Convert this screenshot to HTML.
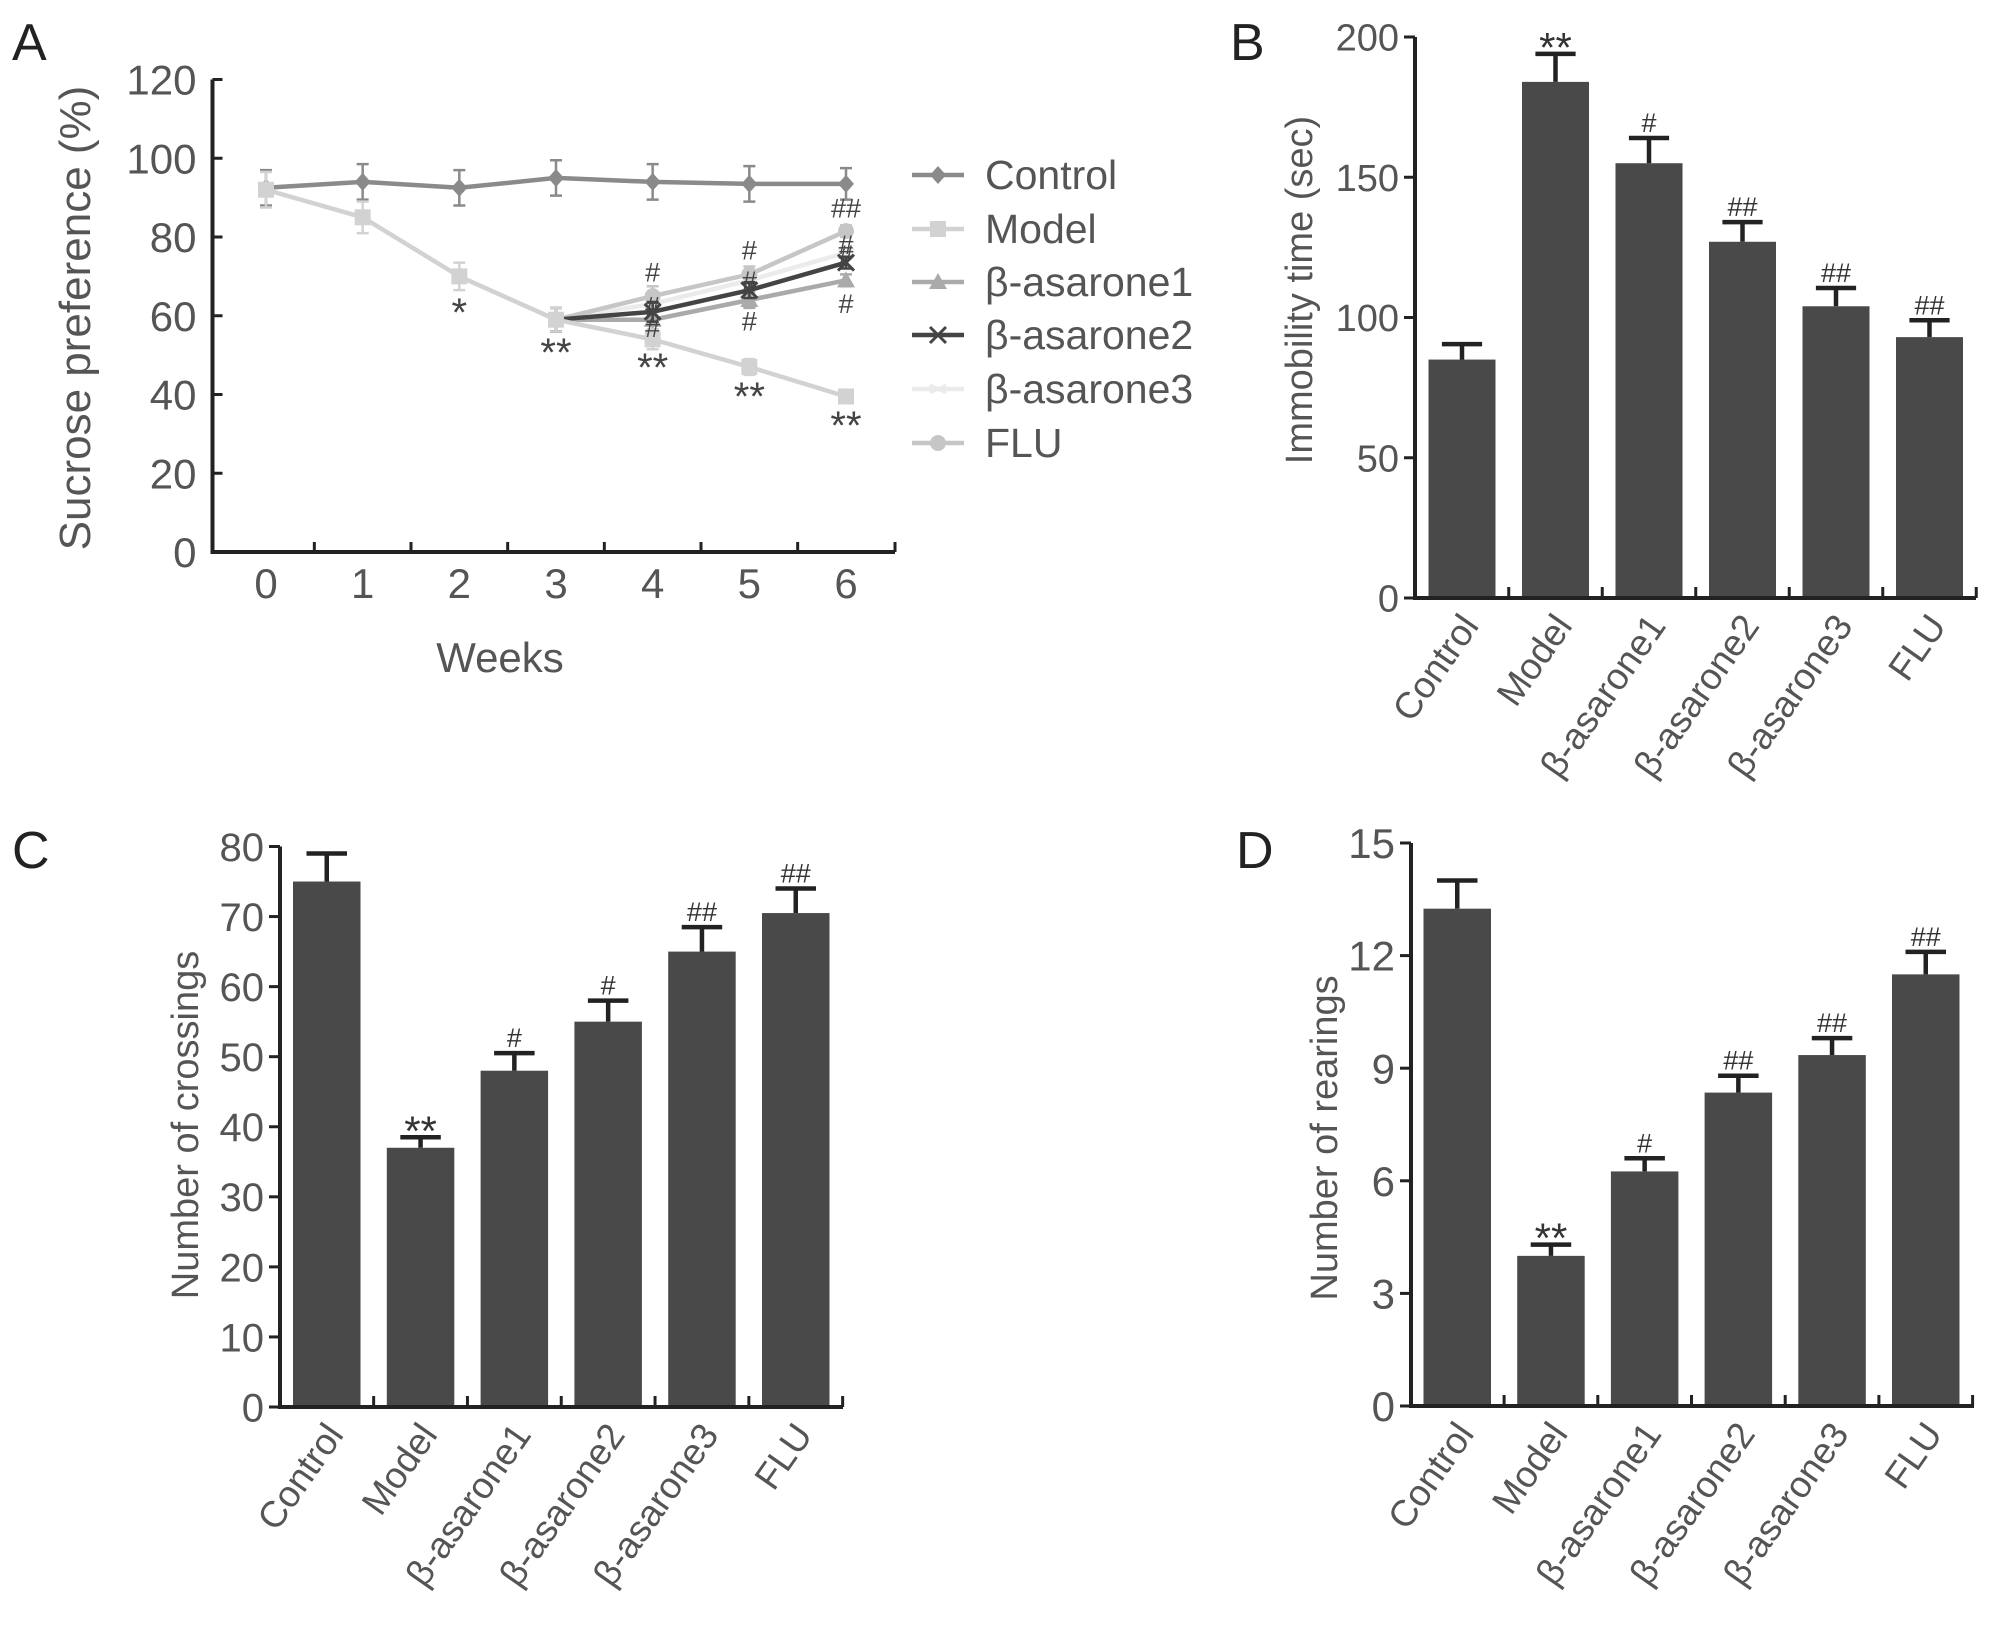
<!DOCTYPE html>
<html><head><meta charset="utf-8">
<style>
html,body{margin:0;padding:0;background:#fff;}
svg{display:block;font-family:"Liberation Sans",Arial,sans-serif;}
</style></head>
<body>
<svg id="fig" width="2008" height="1628" viewBox="0 0 2008 1628" xmlns="http://www.w3.org/2000/svg">
<rect width="2008" height="1628" fill="#fff"/>
<g id="pa"></g>
<g id="pb"></g>
<g id="pc"></g>
<g id="pd"></g>
</svg>
<script>
// ---------- Panel A data ----------
const weeks = [0,1,2,3,4,5,6];
const yTicksA = [0,20,40,60,80,100,120];
const seriesNames = ["Control","Model","β-asarone1","β-asarone2","β-asarone3","FLU"];
const controlVals = [92.5,94,92.5,95,94,93.5,93.5];
const modelVals = [92,85,70,59,54,47,39.5];
const asarone1Vals = [92,85,70,59,59,64,69];
const asarone2Vals = [92,85,70,59,61,66.5,73.5];
const asarone3Vals = [92,85,70,59,63,69,76];
const fluVals = [92,85,70,59,65,70.5,81.5];
const controlErr = [4.5,4.5,4.5,4.5,4.5,4.5,4];
const otherErr = [4.5,4,3.5,3,2.5,2,1.5];
const annotWeek = [2,3,4,5,6,4,4,4,5,5,5,6,6,6,6];
const annotVal = [63,52.8,49,41.6,34.3,71,62.4,56.9,76.6,68.8,58.6,87.3,78,75.4,63];
const annotText = ["*","**","**","**","**","#","#","#","#","#","#","##","#","#","#"];

// ---------- Bar panel data ----------
const categories = ["Control","Model","β-asarone1","β-asarone2","β-asarone3","FLU"];
const immobility = [85,184,155,127,104,93];
const immobilityErr = [5.5,10,9,7,6.5,6];
const immobilitySig = ["","**","#","##","##","##"];
const immobilityTicks = [0,50,100,150,200];
const crossings = [75,37,48,55,65,70.5];
const crossingsErr = [4,1.5,2.5,3,3.5,3.5];
const crossingsSig = ["","**","#","#","##","##"];
const crossingsTicks = [0,10,20,30,40,50,60,70,80];
const rearings = [13.25,4,6.25,8.35,9.35,11.5];
const rearingsErr = [0.75,0.3,0.35,0.45,0.45,0.6];
const rearingsSig = ["","**","#","##","##","##"];
const rearingsTicks = [0,3,6,9,12,15];

const NS="http://www.w3.org/2000/svg";
function mk(parent,tag,attrs,text){
  const e=document.createElementNS(NS,tag);
  for(const k in attrs) e.setAttribute(k,attrs[k]);
  if(text!==undefined) e.textContent=text;
  parent.appendChild(e); return e;
}

// ---------- Panel A ----------
(function(){
  const g=document.getElementById('pa');
  const x0=212.5, y0=552, yTop=79.5, ymax=120, xw0=266, xw6=846, xEnd=895;
  const X=w=>xw0+(xw6-xw0)*w/6;
  const Y=v=>y0-(y0-yTop)*v/ymax;
  let t=mk(g,'text',{x:12,y:60,'font-size':52,fill:'#222'},'A');
  
  
  let ax=mk(g,'path',{d:`M${x0},${yTop} V${y0} H${xEnd}`,stroke:'#222','stroke-width':4,fill:'none'});
  
  
  yTicksA.forEach(v=>{
    mk(g,'line',{x1:x0,x2:x0+10,y1:Y(v),y2:Y(v),stroke:'#222','stroke-width':3});
    const l=mk(g,'text',{x:x0-16,y:Y(v)+15,'font-size':42,fill:'#555','text-anchor':'end'},String(v));
    
    
  });
  for(let w=0;w<6;w++){
    const xx=(X(w)+X(w+1))/2;
    mk(g,'line',{x1:xx,x2:xx,y1:y0,y2:y0-10,stroke:'#222','stroke-width':3});
  }
  mk(g,'line',{x1:xEnd,x2:xEnd,y1:y0,y2:y0-10,stroke:'#222','stroke-width':3});
  weeks.forEach(w=>{
    const l=mk(g,'text',{x:X(w),y:598,'font-size':42,fill:'#555','text-anchor':'middle'},String(w));
    
    
  });
  t=mk(g,'text',{x:500,y:672,'font-size':42,fill:'#555','text-anchor':'middle'},'Weeks');
  
  
  t=mk(g,'text',{x:0,y:0,'font-size':44,fill:'#555','text-anchor':'middle',transform:'translate(90,318) rotate(-90)'},'Sucrose preference (%)');
  
  

  const all=[controlVals,modelVals,asarone1Vals,asarone2Vals,asarone3Vals,fluVals];
  const colors=['#8a8a8a','#d2d2d2','#aaaaaa','#444444','#ebebeb','#c6c6c6'];
  const markers=['diamond','square','triangle','x','dash','circle'];
  function marker(p,type,cx,cy,col){
    if(type==='diamond') return mk(p,'polygon',{points:`${cx},${cy-9} ${cx+8},${cy} ${cx},${cy+9} ${cx-8},${cy}`,fill:col});
    if(type==='square') return mk(p,'rect',{x:cx-8,y:cy-8,width:16,height:16,fill:col});
    if(type==='triangle') return mk(p,'polygon',{points:`${cx},${cy-9} ${cx+9},${cy+7} ${cx-9},${cy+7}`,fill:col});
    if(type==='x') return mk(p,'path',{d:`M${cx-8},${cy-8} L${cx+8},${cy+8} M${cx-8},${cy+8} L${cx+8},${cy-8}`,stroke:col,'stroke-width':3});
    if(type==='dash') return mk(p,'path',{d:`M${cx-8},${cy-4} L${cx+8},${cy+4} M${cx-8},${cy+4} L${cx+8},${cy-4}`,stroke:col,'stroke-width':3});
    return mk(p,'circle',{cx:cx,cy:cy,r:8,fill:col});
  }
  // treatment series first (only visible from week 3), model drawn over shared segment
  const order=[0,4,5,2,3,1];
  order.forEach(i=>{
    const sg=mk(g,'g',{});
    
    
    const vals=all[i], err=i===0?controlErr:otherErr;
    const start=(i>=2)?3:0;
    vals.forEach((v,k)=>{
      if(k<start) return;
      const e=err[k], xx=X(weeks[k]);
      mk(sg,'path',{d:`M${xx},${Y(v-e)} V${Y(v+e)} M${xx-6},${Y(v-e)} H${xx+6} M${xx-6},${Y(v+e)} H${xx+6}`,stroke:colors[i],'stroke-width':2.5,fill:'none'});
    });
    mk(sg,'polyline',{points:vals.map((v,k)=>X(weeks[k])+','+Y(v)).slice(start).join(' '),stroke:colors[i],'stroke-width':4.5,fill:'none'});
    vals.forEach((v,k)=>{
      if(k<start+1 && i>=2) return;
      const m=marker(sg,markers[i],X(weeks[k]),Y(v),colors[i]);
      
      
    });
  });
  annotText.forEach((s,k)=>{
    const star=s.indexOf('*')>=0;
    const l=mk(g,'text',{x:X(annotWeek[k]),y:Y(annotVal[k])+(star?22:9),'font-size':star?40:27,fill:'#444','text-anchor':'middle'},s);
    
    
  });
  // legend
  const ly=[175,229,282,335,389,443];
  seriesNames.forEach((n,i)=>{
    const lg=mk(g,'g',{});
    
    
    mk(lg,'line',{x1:912,x2:964,y1:ly[i],y2:ly[i],stroke:colors[i],'stroke-width':4.5});
    marker(lg,markers[i],938,ly[i],colors[i]);
    mk(lg,'text',{x:985,y:ly[i]+14,'font-size':41,fill:'#555'},n);
  });
})();

// ---------- Bar panels ----------
function barPanel(gid,letter,lx,ly,vals,errs,sigs,ticks,title,cfg){
  const g=document.getElementById(gid);
  const {ax,y0,yTop,xEnd,firstL,pitch,bw,titleX,titleY,tickFont}=cfg;
  const ymax=ticks[ticks.length-1];
  const Y=v=>y0-(y0-yTop)*v/ymax;
  let t=mk(g,'text',{x:lx,y:ly,'font-size':52,fill:'#222'},letter);
  
  
  vals.forEach((v,i)=>{
    const x=firstL+pitch*i;
    const r=mk(g,'rect',{x:x,y:Y(v),width:bw,height:y0-Y(v),fill:'#494949'});
    
    
    const cx=x+bw/2, top=Y(v+errs[i]), cw=bw*0.3;
    const e=mk(g,'path',{d:`M${cx},${Y(v)} V${top} M${cx-cw},${top} H${cx+cw}`,stroke:'#222','stroke-width':4.5,fill:'none'});
    
    
    if(sigs[i]){
      const star=sigs[i].indexOf('*')>=0;
      const s=mk(g,'text',{x:cx,y:top-(star?-8:6),'font-size':star?42:27,fill:'#333','text-anchor':'middle'},sigs[i]);
      
      
    }
    const lab=mk(g,'text',{x:0,y:0,'font-size':37,fill:'#555','text-anchor':'end',transform:`translate(${cx+18},${y0+28}) rotate(-55)`},categories[i]);
    
    
    const tx=firstL+pitch*(i+1)-(pitch-bw)/2;
    mk(g,'line',{x1:tx,x2:tx,y1:y0,y2:y0-11,stroke:'#222','stroke-width':3});
  });
  const a=mk(g,'path',{d:`M${ax},${yTop} V${y0} H${xEnd}`,stroke:'#222','stroke-width':4,fill:'none'});
  
  
  ticks.forEach(v=>{
    mk(g,'line',{x1:ax-11,x2:ax,y1:Y(v),y2:Y(v),stroke:'#222','stroke-width':3});
    const l=mk(g,'text',{x:ax-16,y:Y(v)+tickFont*0.36,'font-size':tickFont,fill:'#555','text-anchor':'end'},String(v));
    
    
  });
  t=mk(g,'text',{x:0,y:0,'font-size':38,fill:'#555','text-anchor':'middle',transform:`translate(${titleX},${titleY}) rotate(-90)`},title);
  
  
}
barPanel('pb','B',1230,60,immobility,immobilityErr,immobilitySig,immobilityTicks,'Immobility time (sec)',
  {ax:1415,y0:598,yTop:37,xEnd:1976,firstL:1428.5,pitch:93.5,bw:67,titleX:1312,titleY:290,tickFont:38});
barPanel('pc','C',12,868,crossings,crossingsErr,crossingsSig,crossingsTicks,'Number of crossings',
  {ax:280,y0:1407,yTop:846.5,xEnd:843,firstL:293,pitch:93.8,bw:67.5,titleX:198,titleY:1125,tickFont:40});
barPanel('pd','D',1236,868,rearings,rearingsErr,rearingsSig,rearingsTicks,'Number of rearings',
  {ax:1411,y0:1406,yTop:843,xEnd:1974,firstL:1423.5,pitch:93.7,bw:67.5,titleX:1337,titleY:1138,tickFont:42});
</script>
</body></html>
